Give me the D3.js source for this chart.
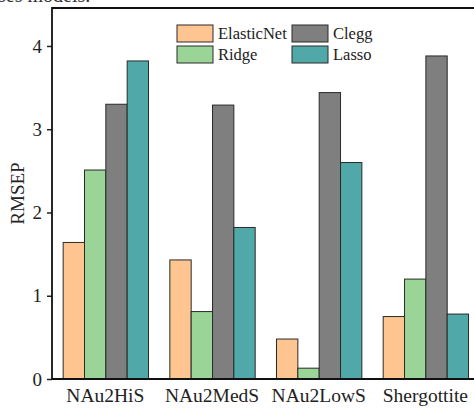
<!DOCTYPE html>
<html><head><meta charset="utf-8">
<script src="https://cdn.jsdelivr.net/npm/d3@7"></script>
<style>body{margin:0;background:#fff}svg{display:block}</style>
</head><body>
<script>
const categories = ["NAu2HiS", "NAu2MedS", "NAu2LowS", "Shergottite"];
const seriesNames = ["ElasticNet", "Ridge", "Clegg", "Lasso"];
const elasticNet = [1.64, 1.43, 0.48, 0.75];
const ridge = [2.51, 0.81, 0.13, 1.20];
const clegg = [3.30, 3.29, 3.44, 3.88];
const lasso = [3.82, 1.82, 2.60, 0.78];
const yTicks = [0, 1, 2, 3, 4];
const colors = ["#FEC591", "#9AD597", "#7F7F7F", "#50A8A8"];
const seriesValues = [elasticNet, ridge, clegg, lasso];

const FONT = "'Liberation Serif', 'DejaVu Serif', serif";
const W = 474, H = 409;
const svg = d3.select("body").append("svg").attr("width", W).attr("height", H);
const mLeft = 52, mTop = 8, mBottom = 379, mRight = 478.7;

svg.append("text").attr("x", -2).attr("y", 2).style("font-family", FONT).style("font-size", "20px").attr("fill", "#333").text("ses models.");

const x0 = d3.scaleBand().domain(categories).range([mLeft, mRight]).paddingInner(0.2).paddingOuter(0.1);
const x1 = d3.scaleBand().domain(seriesNames).range([0, x0.bandwidth()]);
const y = d3.scaleLinear().domain([0, 4.456]).range([mBottom, mTop]);

const rows = categories.map((c, i) => ({cat: c, vals: seriesNames.map((s, j) => ({s, v: seriesValues[j][i], c: colors[j]}))}));

const g = svg.selectAll("g.grp").data(rows).join("g").attr("class", "grp")
  .attr("transform", d => `translate(${x0(d.cat)},0)`);
g.selectAll("rect").data(d => d.vals).join("rect")
  .attr("x", d => x1(d.s) + 0.5).attr("width", x1.bandwidth())
  .attr("y", d => y(d.v)).attr("height", d => mBottom - y(d.v))
  .attr("fill", d => d.c).attr("stroke", "#2a2a2a").attr("stroke-width", 1);

// axes
const yAxis = svg.append("g").attr("transform", `translate(${mLeft},0)`)
  .call(d3.axisLeft(y).tickValues(yTicks).tickSize(5).tickPadding(5).tickFormat(d3.format("d")));
yAxis.select(".domain").remove();
yAxis.selectAll("line").attr("stroke", "#222").attr("stroke-width", 1.5);
yAxis.selectAll("text").style("font-family", FONT).style("font-size", "19px").attr("fill", "#222");

const xAxis = svg.append("g").attr("transform", `translate(0,${mBottom})`)
  .call(d3.axisBottom(x0).tickSize(0).tickPadding(9));
xAxis.select(".domain").remove();
xAxis.selectAll("text").style("font-family", FONT).style("font-size", "19.5px").attr("fill", "#222");

// frame
svg.append("path").attr("d", `M${mRight},${mTop}H${mLeft}V${mBottom}H${mRight}`)
  .attr("fill", "none").attr("stroke", "#111").attr("stroke-width", 1.8);

svg.append("text").attr("transform", `translate(24,${(mTop+mBottom)/2}) rotate(-90)`)
  .attr("text-anchor", "middle").style("font-family", FONT).style("font-size", "19px").attr("fill", "#222").text("RMSEP");

// legend
const legPos = [[177, 25], [177, 46], [292, 25], [292, 46]];
const lg = svg.selectAll("g.leg").data(seriesNames).join("g").attr("class", "leg")
  .attr("transform", (d, i) => `translate(${legPos[i][0]},${legPos[i][1]})`);
lg.append("rect").attr("width", 36).attr("height", 17).attr("fill", (d, i) => colors[i])
  .attr("stroke", "#2a2a2a").attr("stroke-width", 1);
lg.append("text").attr("x", 41).attr("y", 14).style("font-family", FONT).style("font-size", "16.5px").attr("fill", "#222").text(d => d);
</script>
</body></html>
